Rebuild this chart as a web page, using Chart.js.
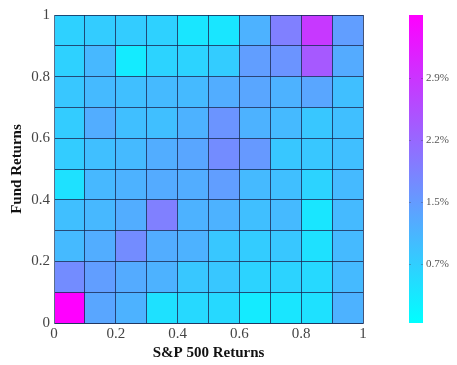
<!DOCTYPE html>
<html>
<head>
<meta charset="utf-8">
<script src="https://cdn.jsdelivr.net/npm/chart.js@4.4.1/dist/chart.umd.min.js"></script>
<style>
  html, body { margin: 0; padding: 0; background: #fff; }
  #wrap { width: 457px; height: 365px; }
</style>
</head>
<body>
<div id="wrap"><canvas id="heat"></canvas></div>
<script>
// Grid edges (both axes 0..1 in steps of 0.1)
const binEdges = [0, 0.1, 0.2, 0.3, 0.4, 0.5, 0.6, 0.7, 0.8, 0.9, 1];
const axisTicks = [0, 0.2, 0.4, 0.6, 0.8, 1];

// Joint frequency (%) per cell, rows from Fund Returns 0-0.1 (bottom) up to 0.9-1 (top),
// columns from S&P 500 Returns 0-0.1 (left) to 0.9-1 (right)
const row0 = [3.66, 1.31, 1.13, 0.47, 0.58, 0.58, 0.33, 0.40, 0.47, 1.13];
const row1 = [1.67, 1.42, 1.23, 1.13, 0.84, 0.84, 0.66, 0.66, 0.58, 1.02];
const row2 = [1.02, 1.20, 1.67, 1.20, 1.13, 0.84, 0.76, 0.84, 0.47, 1.02];
const row3 = [0.95, 1.05, 1.20, 1.85, 1.13, 1.13, 0.95, 1.02, 0.40, 1.02];
const row4 = [0.47, 1.05, 1.13, 1.23, 1.20, 1.42, 1.02, 0.95, 0.66, 1.02];
const row5 = [0.76, 0.95, 1.02, 1.20, 1.31, 1.67, 1.49, 0.84, 0.84, 0.95];
const row6 = [0.76, 1.20, 0.95, 0.95, 1.13, 1.56, 1.13, 1.02, 0.84, 0.95];
const row7 = [0.84, 1.02, 0.95, 1.02, 1.02, 1.20, 1.31, 1.13, 1.31, 0.95];
const row8 = [0.69, 1.05, 0.33, 0.66, 0.66, 0.76, 1.42, 1.56, 2.39, 1.23];
const row9 = [0.69, 0.76, 0.76, 0.69, 0.40, 0.40, 1.13, 1.85, 2.86, 1.42];
const cellRows = [row0, row1, row2, row3, row4, row5, row6, row7, row8, row9];

// Colour bar range and ticks (%)
const colorMin = 0.04;
const colorMax = 3.66;
const colorTicks = [0.73, 1.46, 2.19, 2.92];

// MATLAB "cool" colormap: cyan -> magenta
function coolColor(v) {
    let t = (v - colorMin) / (colorMax - colorMin);
    t = Math.max(0, Math.min(1, t));
    return `rgb(${Math.round(255 * t)}, ${Math.round(255 * (1 - t))}, 255)`;
}

// Cell centres as points, with the value attached
const cells = [];
cellRows.forEach((row, r) => {
    row.forEach((v, c) => {
        cells.push({
            x: (binEdges[c] + binEdges[c + 1]) / 2,
            y: (binEdges[r] + binEdges[r + 1]) / 2,
            x0: binEdges[c], x1: binEdges[c + 1],
            y0: binEdges[r], y1: binEdges[r + 1],
            v: v
        });
    });
});

// Draw cells through the x/y scales, and the colour bar through the cb scale
const heatPlugin = {
    id: 'heat',
    beforeDatasetsDraw(chart) {
        const { ctx, scales } = chart;
        const xs = scales.x, ys = scales.y;
        ctx.save();
        cells.forEach(cell => {
            const left = xs.getPixelForValue(cell.x0);
            const right = xs.getPixelForValue(cell.x1);
            const top = ys.getPixelForValue(cell.y1);
            const bottom = ys.getPixelForValue(cell.y0);
            ctx.fillStyle = coolColor(cell.v);
            ctx.fillRect(left, top, right - left, bottom - top);
        });
        ctx.restore();
    },
    afterDraw(chart) {
        const { ctx, scales } = chart;
        const cb = scales.cb;
        const barLeft = cb.left + 46;
        const barWidth = 14;
        const top = cb.getPixelForValue(colorMax);
        const bottom = cb.getPixelForValue(colorMin);
        ctx.save();
        const grad = ctx.createLinearGradient(0, bottom, 0, top);
        grad.addColorStop(0, 'rgb(0,255,255)');
        grad.addColorStop(1, 'rgb(255,0,255)');
        ctx.fillStyle = grad;
        ctx.fillRect(barLeft, top, barWidth, bottom - top);
        ctx.strokeStyle = 'rgba(60,60,90,0.35)';
        ctx.lineWidth = 1;
        colorTicks.forEach(v => {
            const y = Math.round(cb.getPixelForValue(v)) + 0.5;
            ctx.beginPath();
            ctx.moveTo(barLeft, y);
            ctx.lineTo(barLeft + 2, y);
            ctx.moveTo(barLeft + barWidth - 2, y);
            ctx.lineTo(barLeft + barWidth, y);
            ctx.stroke();
        });
        ctx.restore();
    }
};

// Fixed box sizes so the plot area lands where the reference has it
function fixSize(prop, size) {
    return s => {
        s[prop] = size;
        s.paddingTop = 0;
        s.paddingBottom = 0;
    };
}

const serif = "'Liberation Serif', 'DejaVu Serif', serif";
const gridColor = 'rgba(20,40,85,0.8)';

new Chart(document.getElementById('heat'), {
    type: 'scatter',
    data: {
        datasets: [{
            data: cells,
            pointRadius: 0,
            pointHoverRadius: 0
        }]
    },
    options: {
        responsive: true,
        maintainAspectRatio: false,
        animation: false,
        layout: { padding: { top: 15, left: 0, right: 0, bottom: 0 } },
        plugins: {
            legend: { display: false },
            tooltip: { enabled: false }
        },
        scales: {
            x: {
                type: 'linear',
                min: 0, max: 1,
                afterBuildTicks: s => { s.ticks = binEdges.map(v => ({ value: v })); },
                afterFit: fixSize('height', 42),
                ticks: {
                    autoSkip: false,
                    maxRotation: 0,
                    padding: 2,
                    color: '#444',
                    font: { family: serif, size: 15 },
                    callback: v => axisTicks.some(t => Math.abs(t - v) < 1e-9) ? String(+v.toFixed(1)) : ''
                },
                grid: { color: gridColor, lineWidth: 1, drawTicks: false, z: 1 },
                border: { color: 'rgb(90,110,140)', z: 1 },
                title: {
                    display: true,
                    text: 'S&P 500 Returns',
                    color: '#111',
                    padding: { top: 0, bottom: 3 },
                    font: { family: serif, size: 15, weight: 'bold' }
                }
            },
            y: {
                type: 'linear',
                min: 0, max: 1,
                afterBuildTicks: s => { s.ticks = binEdges.map(v => ({ value: v })); },
                afterFit: fixSize('width', 54),
                ticks: {
                    autoSkip: false,
                    padding: 4,
                    color: '#444',
                    font: { family: serif, size: 15 },
                    callback: v => axisTicks.some(t => Math.abs(t - v) < 1e-9) ? String(+v.toFixed(1)) : ''
                },
                grid: { color: gridColor, lineWidth: 1, drawTicks: false, z: 1 },
                border: { color: 'rgb(90,110,140)', z: 1 },
                title: {
                    display: true,
                    text: 'Fund Returns',
                    color: '#111',
                    padding: { top: 8, bottom: 0 },
                    font: { family: serif, size: 15, weight: 'bold' }
                }
            },
            cb: {
                type: 'linear',
                position: 'right',
                min: colorMin, max: colorMax,
                afterBuildTicks: s => { s.ticks = colorTicks.map(v => ({ value: v })); },
                afterFit: fixSize('width', 94),
                ticks: {
                    padding: 63,
                    color: '#555',
                    font: { family: serif, size: 11 },
                    callback: v => v.toFixed(1) + '%'
                },
                grid: { display: false, drawTicks: false },
                border: { display: false }
            }
        }
    },
    plugins: [heatPlugin]
});
</script>
</body>
</html>
